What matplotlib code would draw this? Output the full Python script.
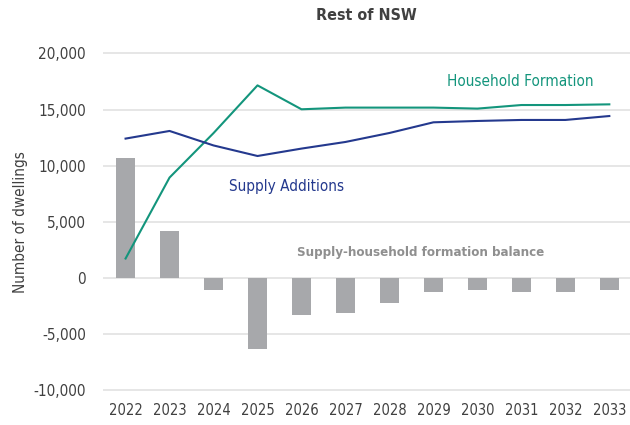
import matplotlib
matplotlib.use("Agg")
import matplotlib.pyplot as plt
import numpy as np

years = ["2022", "2023", "2024", "2025", "2026", "2027", "2028", "2029", "2030", "2031", "2032", "2033"]
household_formation = [1730, 8940, 12900, 17150, 15020, 15170, 15170, 15170, 15080, 15400, 15400, 15460]
supply_additions = [12410, 13090, 11800, 10860, 11520, 12110, 12910, 13860, 13980, 14070, 14070, 14420]
balance = [10650, 4210, -1110, -6320, -3340, -3100, -2250, -1290, -1110, -1290, -1290, -1110]
y_ticks = [-10000, -5000, 0, 5000, 10000, 15000, 20000]

GREEN = "#13957c"
NAVY = "#24398e"
BAR = "#a7a8ab"
GRID = "#e4e4e4"
TEXT = "#404040"

plt.rcParams["font.family"] = ["DejaVu Sans"]
plt.rcParams["font.stretch"] = "condensed"

fig = plt.figure(figsize=(6.3, 4.25), dpi=100)
ax = fig.add_axes([102.7 / 630, 1 - 393.6 / 425, 1 - 102.7 / 630, (393.6 - 50) / 425])

x = np.arange(len(years))
ax.bar(x, balance, width=0.43, color=BAR, zorder=2)
ax.plot(x, household_formation, color=GREEN, lw=1.5, zorder=3)
ax.plot(x, supply_additions, color=NAVY, lw=1.5, zorder=3)

ax.set_xlim(-0.52, 11.47)
ax.set_ylim(-10300, 20300)
ax.set_yticks(y_ticks)
ax.set_yticklabels([f"{v:,}" for v in y_ticks])
ax.set_xticks(x)
ax.set_xticklabels(years)
ax.grid(axis="y", color=GRID, lw=1.3, zorder=0)
ax.set_axisbelow(True)
for s in ax.spines.values():
    s.set_visible(False)
ax.tick_params(axis="both", length=0, colors=TEXT)
ax.tick_params(axis="x", labelsize=10.5, pad=7)
ax.tick_params(axis="y", labelsize=11, pad=12)

ax.set_ylabel("Number of dwellings", fontsize=11, color=TEXT)
ax.yaxis.set_label_coords(-0.142, 0.5)

fig.text(366 / 630, 1 - 15 / 425, "Rest of NSW", ha="center", va="center",
         fontsize=11.5, fontweight="bold", color=TEXT)

ax.text(8.97, 17500, "Household Formation", color=GREEN, fontsize=11,
        ha="center", va="center")
ax.text(3.65, 8170, "Supply Additions", color=NAVY, fontsize=11,
        ha="center", va="center")
ax.text(6.72, 2300, "Supply-household formation balance", color="#8f8f8f", fontsize=9.5,
        ha="center", va="center", fontweight="bold")

fig.savefig("out.png", dpi=100)
